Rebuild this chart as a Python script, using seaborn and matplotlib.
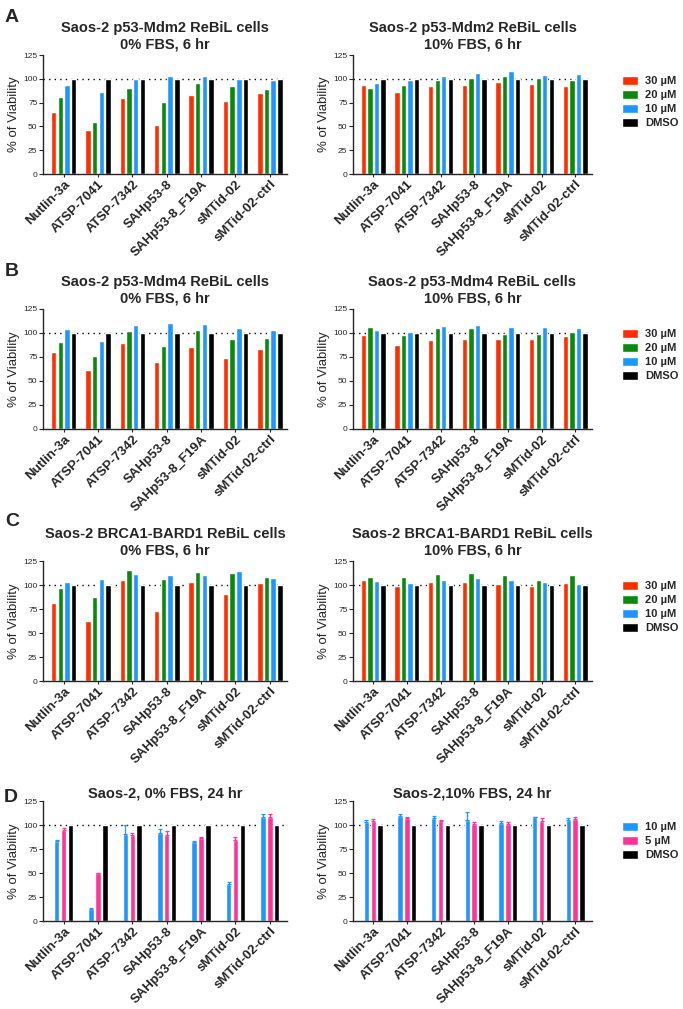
import numpy as np
import pandas as pd
import matplotlib
matplotlib.use('Agg')
import matplotlib.pyplot as plt
import seaborn as sns

#---- dados
compounds = ['Nutlin-3a', 'ATSP-7041', 'ATSP-7342', 'SAHp53-8',
             'SAHp53-8_F19A', 'sMTid-02', 'sMTid-02-ctrl']
conc_6h = ['30 µM', '20 µM', '10 µM', 'DMSO']
conc_24h = ['10 µM', '5 µM', 'DMSO']

# A - p53-Mdm2
mdm2_0 = {'30 µM': [65, 46, 80, 51, 83, 77, 85],
          '20 µM': [81, 55, 90, 76, 96, 92, 89],
          '10 µM': [94, 86, 100, 103, 103, 100, 99],
          'DMSO': [100, 100, 100, 100, 100, 100, 100]}
mdm2_10 = {'30 µM': [93, 86, 92, 94, 97, 95, 92],
           '20 µM': [90, 94, 99, 101, 103, 101, 99],
           '10 µM': [96, 99, 103, 106, 108, 104, 105],
           'DMSO': [100, 100, 100, 100, 100, 100, 100]}
# B - p53-Mdm4
mdm4_0 = {'30 µM': [80, 61, 90, 70, 85, 74, 83],
          '20 µM': [91, 76, 102, 86, 103, 94, 95],
          '10 µM': [104, 92, 108, 110, 109, 105, 103],
          'DMSO': [100, 100, 100, 100, 100, 100, 100]}
mdm4_10 = {'30 µM': [98, 87, 93, 94, 94, 94, 97],
           '20 µM': [106, 98, 105, 105, 99, 99, 101],
           '10 µM': [103, 101, 107, 108, 106, 106, 105],
           'DMSO': [100, 100, 100, 100, 100, 100, 100]}
# C - BRCA1-BARD1
brca_0 = {'30 µM': [81, 62, 105, 73, 103, 91, 102],
          '20 µM': [97, 87, 116, 106, 114, 113, 108],
          '10 µM': [103, 106, 111, 110, 110, 115, 107],
          'DMSO': [100, 100, 100, 100, 100, 100, 100]}
brca_10 = {'30 µM': [105, 99, 103, 103, 101, 99, 102],
           '20 µM': [108, 108, 111, 112, 110, 105, 110],
           '10 µM': [104, 102, 105, 107, 105, 103, 101],
           'DMSO': [100, 100, 100, 100, 100, 100, 100]}
# D - 24 hr (media e erro)
d24_0 = {'10 µM': [83, 12.5, 91, 92, 82, 38.5, 108],
         '5 µM': [95, 49.5, 90, 90, 86, 84, 108],
         'DMSO': [100, 100, 100, 100, 100, 100, 100]}
d24_0_err = {'10 µM': [1, 1.5, 9, 4, 1, 2, 3],
             '5 µM': [2, 0.5, 2, 4, 1, 3, 3],
             'DMSO': [0, 0, 0, 0, 0, 0, 0]}
d24_10 = {'10 µM': [103.5, 109.5, 107.5, 105, 102.5, 108, 105.5],
          '5 µM': [104, 107, 104, 101.5, 101.5, 104, 106],
          'DMSO': [100, 100, 100, 100, 100, 100, 100]}
d24_10_err = {'10 µM': [2, 2, 2, 9, 1.5, 0.5, 2],
              '5 µM': [2, 1.5, 1, 2, 2, 3, 2],
              'DMSO': [0, 0, 0, 0, 0, 0, 0]}

palette = {'30 µM': '#FF2D00', '20 µM': '#0A8A0A', '10 µM': '#1E96FF',
           '5 µM': '#FF3399', 'DMSO': '#000000'}

sns.set_style('ticks')
plt.rcParams['font.family'] = ['Liberation Sans', 'DejaVu Sans']


def to_long(d):
    rows = []
    for conc, vals in d.items():
        for c, v in zip(compounds, vals):
            rows.append({'Compound': c, 'Conc': conc, 'Viab': v})
    return pd.DataFrame(rows)


def draw(ax, d, order, title, err=None, width=0.78, gap=0.18, legend_y=None,
         title_pad=6):
    df = to_long(d)
    sns.barplot(data=df, x='Compound', y='Viab', hue='Conc', hue_order=order,
                order=compounds, palette=palette, width=width, gap=gap,
                saturation=1, errorbar=None, ax=ax, legend=legend_y is not None)
    if err is not None:
        for cont, conc in zip(ax.containers, order):
            for bar in cont:
                cx = bar.get_x() + bar.get_width() / 2
                i = int(round(cx))
                e = err[conc][i]
                if e > 0:
                    ax.errorbar(cx, bar.get_height(), yerr=[[0], [e]], fmt='none',
                                ecolor=palette[conc], elinewidth=0.9, capsize=1.5,
                                capthick=0.9)
    ax.axhline(100, color='black', ls=(0, (1, 3)), lw=1.0, zorder=0)
    ax.set_ylim(0, 125)
    ax.set_xlim(-0.6, 6.5)
    ax.set_yticks([0, 25, 50, 75, 100, 125])
    ax.tick_params(axis='y', labelsize=6, length=3, width=0.8, pad=1)
    ax.tick_params(axis='x', labelsize=9.5, length=2, width=0.8, pad=1)
    ax.set_xticks(range(len(compounds)))
    ax.set_xticklabels(compounds, rotation=45, ha='right', rotation_mode='anchor',
                       fontweight='bold')
    ax.set_xlabel('')
    ax.set_ylabel('% of Viability', fontsize=9.5, labelpad=2)
    ax.set_title(title, fontsize=10.5, fontweight='bold', pad=title_pad,
                 linespacing=1.15)
    for s in ['left', 'bottom']:
        ax.spines[s].set_linewidth(1.0)
    sns.despine(ax=ax)
    if legend_y is not None:
        h, l = ax.get_legend_handles_labels()
        ax.get_legend().remove()
        ax.figure.legend(h, l, loc='upper left', bbox_to_anchor=(0.91, legend_y),
                         frameon=False, handlelength=1.5, handleheight=0.8,
                         handletextpad=0.6, labelspacing=0.35, borderpad=0,
                         borderaxespad=0, prop={'weight': 'bold', 'size': 8})


fig = plt.figure(figsize=(6.83, 10.09), dpi=100)
W, H = 683, 1009


def add_ax(x0, x1, ytop, ybot):
    return fig.add_axes([x0 / W, 1 - ybot / H, (x1 - x0) / W, (ybot - ytop) / H])


panels = [
    ('A', 55, 174, mdm2_0, mdm2_10, 'Saos-2 p53-Mdm2 ReBiL cells', 76, 18),
    ('B', 309, 429, mdm4_0, mdm4_10, 'Saos-2 p53-Mdm4 ReBiL cells', 329, 272),
    ('C', 561, 681, brca_0, brca_10, 'Saos-2 BRCA1-BARD1 ReBiL cells', 581, 522),
]
for letter, yt, yb, d0, d10, name, leg, ly in panels:
    axl = add_ax(43, 287, yt, yb)
    axr = add_ax(353, 592, yt, yb)
    draw(axl, d0, conc_6h, name + '\n0% FBS, 6 hr', title_pad=5)
    draw(axr, d10, conc_6h, name + '\n10% FBS, 6 hr', legend_y=1 - leg / H,
         title_pad=5)
    fig.text(5 / W, 1 - ly / H, letter, fontsize=14, fontweight='bold',
             va='center', ha='left')

axl = add_ax(43, 287, 801, 921)
axr = add_ax(353, 592, 801, 921)
draw(axl, d24_0, conc_24h, 'Saos-2, 0% FBS, 24 hr', err=d24_0_err, width=0.6,
     gap=0.2, title_pad=-4)
draw(axr, d24_10, conc_24h, 'Saos-2,10% FBS, 24 hr', err=d24_10_err, width=0.6,
     gap=0.2, legend_y=1 - 822 / H, title_pad=-4)
fig.text(4 / W, 1 - 797 / H, 'D', fontsize=14, fontweight='bold',
         va='center', ha='left')

fig.savefig('out.png', dpi=100)
